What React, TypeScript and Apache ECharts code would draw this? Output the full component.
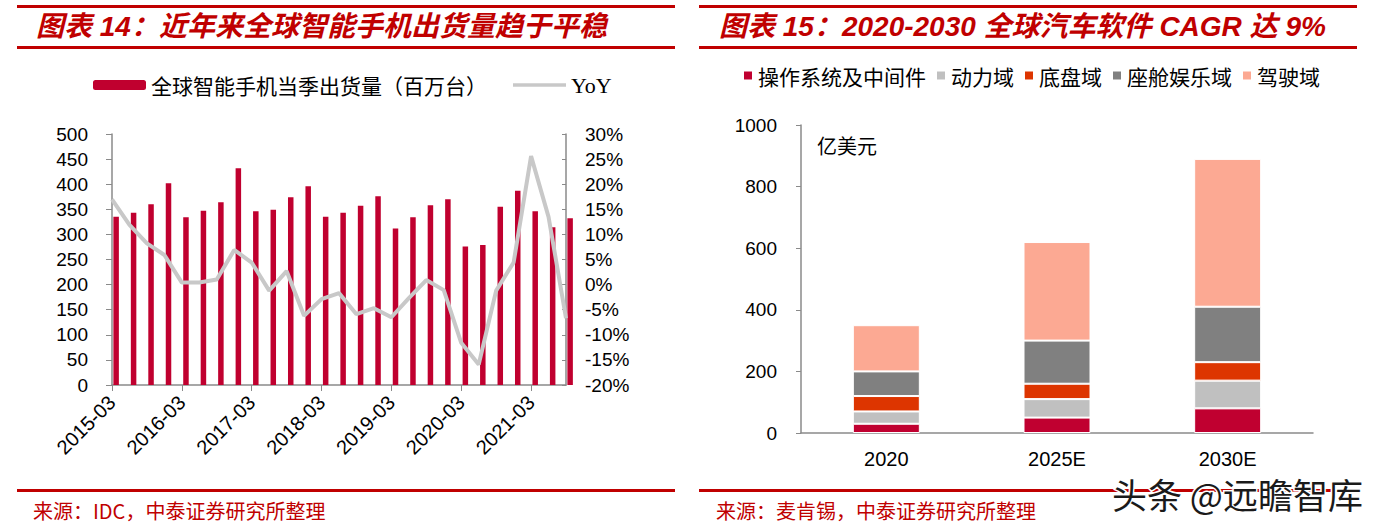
import React, { useEffect, useRef } from "react";
import * as echarts from "echarts";

// ---------- Data: chart 14 ----------
const quarters = [
  "2015-03", "2015-06", "2015-09", "2015-12",
  "2016-03", "2016-06", "2016-09", "2016-12",
  "2017-03", "2017-06", "2017-09", "2017-12",
  "2018-03", "2018-06", "2018-09", "2018-12",
  "2019-03", "2019-06", "2019-09", "2019-12",
  "2020-03", "2020-06", "2020-09", "2020-12",
  "2021-03", "2021-06", "2021-09",
];
const shipments = [
  335, 343, 360, 402, 334, 347, 364, 432, 346, 349, 374, 396, 335, 343,
  357, 376, 312, 334, 358, 370, 276, 279, 355, 387, 346, 314, 332,
];
const yoy = [
  17.0, 11.9, 8.2, 5.9, 0.4, 0.4, 1.0, 6.9, 4.4, -1.2, 2.7, -6.2, -2.9, -1.7,
  -5.9, -4.7, -6.5, -2.7, 0.9, -1.1, -11.6, -15.9, -1.2, 4.4, 25.6, 13.5, -6.7,
];
const barName = "全球智能手机当季出货量（百万台）";
const lineName = "YoY";

// ---------- Data: chart 15 ----------
const years = ["2020", "2025E", "2030E"];
const domainNames = ["操作系统及中间件", "动力域", "底盘域", "座舱娱乐域", "驾驶域"];
const osMiddleware = [30, 50, 80];
const powertrain = [40, 60, 90];
const chassis = [50, 50, 60];
const cockpit = [80, 140, 180];
const driving = [150, 320, 480];
const domainValues = [osMiddleware, powertrain, chassis, cockpit, driving];
const domainColors = ["#C00030", "#C0C0C0", "#DD3500", "#808080", "#FCA993"];

const RED = "#C00000";
const AXIS = "#8A8A8A";
const SANS = "'Liberation Sans', Arial, 'Noto Sans CJK SC', sans-serif";
const CJK = "'Noto Sans CJK SC', sans-serif";

export default function App() {
  const ref = useRef<HTMLDivElement>(null);

  useEffect(() => {
    if (!ref.current) return;
    const chart = echarts.init(ref.current, undefined, { renderer: "svg" });

    const axisLabelBase = { color: "#000", fontFamily: SANS, fontSize: 19 };

    const option: any = {
      animation: false,
      backgroundColor: "#fff",
      legend: [
        {
          left: 88,
          top: 69,
          itemWidth: 53,
          itemHeight: 10,
          itemGap: 26,
          textStyle: { fontFamily: CJK, fontSize: 21, color: "#000" },
          data: [
            { name: barName },
            {
              name: lineName,
              icon: "path://M0,0 L60,0 L60,4 L0,4 Z",
              textStyle: { fontFamily: "'Liberation Serif', serif", fontSize: 22 },
            },
          ],
        },
        {
          left: 737,
          top: 60,
          icon: "rect",
          itemWidth: 10,
          itemHeight: 10,
          itemGap: 9,
          textStyle: { fontFamily: CJK, fontSize: 21, color: "#000" },
          data: domainNames,
        },
      ],
      grid: [
        { left: 112, top: 134, width: 454, height: 251 },
        { left: 801, top: 125, width: 512, height: 308 },
      ],
      xAxis: [
        {
          gridIndex: 0,
          type: "category",
          data: quarters,
          boundaryGap: false,
          axisLine: { lineStyle: { color: AXIS, width: 1.5 } },
          axisTick: { interval: 3, length: 6, lineStyle: { color: AXIS } },
          axisLabel: { ...axisLabelBase, fontSize: 20, interval: 3, rotate: 45, margin: 14 },
        },
        {
          gridIndex: 1,
          type: "category",
          data: years,
          axisLine: { lineStyle: { color: AXIS, width: 1.5 } },
          axisTick: { length: 6, lineStyle: { color: AXIS } },
          axisLabel: { ...axisLabelBase, fontSize: 20, margin: 16 },
        },
      ],
      yAxis: [
        {
          gridIndex: 0,
          type: "value",
          min: 0,
          max: 500,
          interval: 50,
          splitLine: { show: false },
          axisLine: { show: true, lineStyle: { color: AXIS, width: 1.5 } },
          axisTick: { show: true, length: 6, lineStyle: { color: AXIS } },
          axisLabel: { ...axisLabelBase, margin: 24 },
        },
        {
          gridIndex: 0,
          type: "value",
          position: "right",
          min: -20,
          max: 30,
          interval: 5,
          splitLine: { show: false },
          axisLine: { show: true, lineStyle: { color: AXIS, width: 1.5 } },
          axisTick: { show: true, inside: true, length: 4, lineStyle: { color: AXIS } },
          axisLabel: { ...axisLabelBase, margin: 19, formatter: "{value}%" },
        },
        {
          gridIndex: 1,
          type: "value",
          min: 0,
          max: 1000,
          interval: 200,
          splitLine: { show: false },
          axisLine: { show: true, lineStyle: { color: AXIS, width: 1.5 } },
          axisTick: { show: true, length: 5, lineStyle: { color: AXIS } },
          axisLabel: { ...axisLabelBase, margin: 24, formatter: (v: number) => String(v) },
        },
      ],
      series: [
        {
          name: "_pad",
          type: "bar",
          xAxisIndex: 0,
          yAxisIndex: 0,
          data: quarters.map(() => "-"),
          barWidth: 5.5,
          barGap: "50%",
          silent: true,
        },
        {
          name: barName,
          type: "bar",
          xAxisIndex: 0,
          yAxisIndex: 0,
          data: shipments,
          barWidth: 5.5,
          barGap: "50%",
          itemStyle: { color: "#C0002F" },
        },
        {
          name: lineName,
          type: "line",
          xAxisIndex: 0,
          yAxisIndex: 1,
          data: yoy,
          symbol: "none",
          lineStyle: { color: "#C8C8C8", width: 4 },
          itemStyle: { color: "#C8C8C8" },
        },
        ...domainNames.map((n, i) => ({
          name: n,
          type: "bar",
          stack: "sw",
          xAxisIndex: 1,
          yAxisIndex: 2,
          barWidth: 67,
          data: domainValues[i],
          itemStyle: { color: domainColors[i], borderColor: "#fff", borderWidth: 1 },
        })),
      ],
      graphic: [
        // left panel
        { type: "rect", shape: { x: 17, y: 5, width: 658, height: 3 }, style: { fill: RED } },
        { type: "rect", shape: { x: 17, y: 46, width: 658, height: 3 }, style: { fill: RED } },
        {
          type: "text",
          x: 36,
          y: 26,
          style: {
            text: "图表 14：近年来全球智能手机出货量趋于平稳",
            fill: RED,
            font: `italic bold 28px ${SANS}`,
            textVerticalAlign: "middle",
          },
        },
        { type: "rect", shape: { x: 17, y: 489, width: 658, height: 3 }, style: { fill: RED } },
        {
          type: "text",
          x: 33,
          y: 510,
          style: {
            text: "来源：IDC，中泰证券研究所整理",
            fill: RED,
            font: `20px ${CJK}`,
            textVerticalAlign: "middle",
          },
        },
        // right panel
        { type: "rect", shape: { x: 699, y: 5, width: 658, height: 3 }, style: { fill: RED } },
        { type: "rect", shape: { x: 699, y: 46, width: 658, height: 3 }, style: { fill: RED } },
        {
          type: "text",
          x: 719,
          y: 26,
          style: {
            text: "图表 15：2020-2030 全球汽车软件 CAGR 达 9%",
            fill: RED,
            font: `italic bold 28px ${SANS}`,
            textVerticalAlign: "middle",
          },
        },
        {
          type: "text",
          x: 817,
          y: 145,
          style: { text: "亿美元", fill: "#000", font: `20px ${CJK}`, textVerticalAlign: "middle" },
        },
        { type: "rect", shape: { x: 699, y: 489, width: 662, height: 3 }, style: { fill: RED } },
        {
          type: "text",
          x: 716,
          y: 510,
          style: {
            text: "来源：麦肯锡，中泰证券研究所整理",
            fill: RED,
            font: `20px ${CJK}`,
            textVerticalAlign: "middle",
          },
        },
        {
          type: "text",
          x: 1112,
          y: 493,
          z: 100,
          style: {
            text: "头条 @远瞻智库",
            fill: "#1a1a1a",
            stroke: "#fff",
            lineWidth: 3,
            font: `35px ${CJK}`,
            textVerticalAlign: "middle",
          },
        },
      ],
    };

    chart.setOption(option);
    return () => chart.dispose();
  }, []);

  return (
    <div
      ref={ref}
      style={{ position: "absolute", left: 0, top: 0, width: 1379, height: 527 }}
    />
  );
}
